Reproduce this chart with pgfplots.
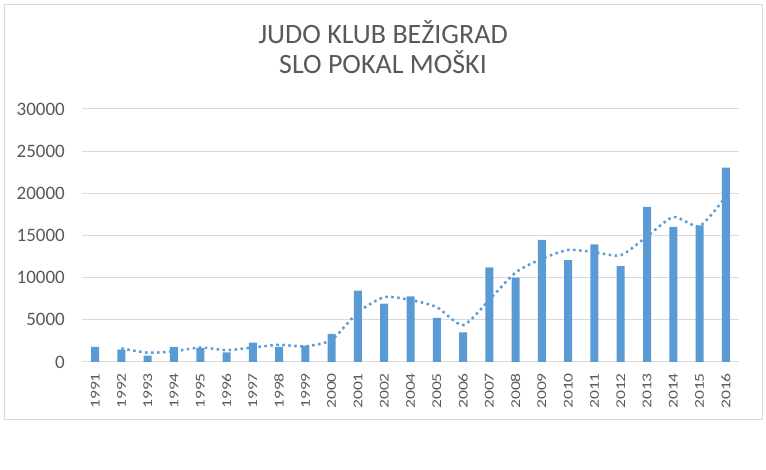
\documentclass[border=0pt]{standalone}
\usepackage{pgfplots}
\pgfplotsset{compat=1.18}
\usepackage{fontspec}
\setmainfont{Carlito}
\newfontfamily\xlabfont[FakeStretch=1.3]{Carlito}
\definecolor{barblue}{HTML}{5B9BD5}
\definecolor{txt}{HTML}{595959}
\definecolor{gridc}{HTML}{D9D9D9}
\begin{document}
\begin{tikzpicture}[x=1pt,y=1pt]
\path (0,0) rectangle (766,470);
\draw[gridc, line width=1pt] (4,50) rectangle (762,465);
\node[anchor=base, text=txt, inner sep=0pt, font=\fontsize{28}{30}\selectfont] at (383,426) {JUDO KLUB BEŽIGRAD};
\node[anchor=base, text=txt, inner sep=0pt, font=\fontsize{28}{30}\selectfont] at (383,396) {SLO POKAL MOŠKI};
\begin{axis}[
  at={(82pt,108pt)}, anchor=south west, scale only axis,
  width=657pt, height=253pt,
  xmin=-0.5, xmax=24.5, ymin=0, ymax=30000,
  ytick={0,5000,10000,15000,20000,25000,30000},
  xtick={0,...,24},
  xticklabels={1991,1992,1993,1994,1995,1996,1997,1998,1999,2000,2001,2002,2004,2005,2006,2007,2008,2009,2010,2011,2012,2013,2014,2015,2016},
  x tick label style={rotate=90, anchor=east, inner sep=0pt, xshift=-11pt, font=\xlabfont\fontsize{13.5}{13.5}\selectfont, text=txt},
  y tick label style={anchor=east, inner sep=0pt, xshift=-17pt, font=\fontsize{19}{19}\selectfont, text=txt},
  /pgf/number format/assume math mode=true,
  /pgf/number format/1000 sep={},
  scaled y ticks=false,
  axis line style={draw=none},
  major tick length=0pt,
  ymajorgrids, grid style={gridc, line width=1pt},
  clip=false,
]
\addplot[ybar, bar width=8pt, fill=barblue, draw=none] coordinates {
(0,1780) (1,1460) (2,750) (3,1780) (4,1660) (5,1150) (6,2290) (7,1780) (8,1940) (9,3320)
(10,8460) (11,6920) (12,7790) (13,5220) (14,3520) (15,11230) (16,10000) (17,14470) (18,12090)
(19,13950) (20,11380) (21,18380) (22,16010) (23,16210) (24,23040)};
\addplot[barblue, line width=2.5pt, dash pattern=on 2.5pt off 3.5pt, smooth, tension=0.4, no marks] coordinates {
(1,1620) (2,1105) (3,1265) (4,1720) (5,1405) (6,1720) (7,2035) (8,1860) (9,2630)
(10,5890) (11,7690) (12,7355) (13,6505) (14,4370) (15,7375) (16,10615) (17,12235)
(18,13280) (19,13020) (20,12665) (21,14880) (22,17195) (23,16110) (24,19625)};
\end{axis}
\end{tikzpicture}
\end{document}
